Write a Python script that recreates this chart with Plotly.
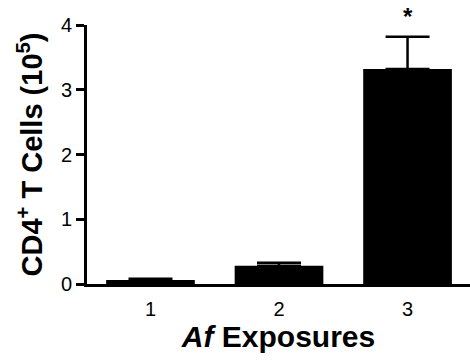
import plotly.graph_objects as go

# Af exposure groups and mean CD4+ T cell counts (x10^5) with SEM
exposures = [1, 2, 3]
exposure_labels = ["1", "2", "3"]
cd4_cells = [0.06, 0.28, 3.32]
cd4_sem = [0.02, 0.05, 0.50]
significance = ["", "", "*"]

FONT = "Liberation Sans, Arial, sans-serif"

fig = go.Figure()
fig.add_trace(go.Bar(
    x=exposures,
    y=cd4_cells,
    width=0.69,
    marker=dict(color="black", line=dict(width=0)),
    error_y=dict(type="data", array=cd4_sem, arrayminus=[0] * len(cd4_sem),
                 symmetric=False, color="black", thickness=2.5, width=22),
))

for xv, yv, err, mark in zip(exposures, cd4_cells, cd4_sem, significance):
    if mark:
        fig.add_annotation(x=xv, y=yv + err, yref="y", xref="x",
                           text="<b>" + mark + "</b>",
                           showarrow=False, yshift=20,
                           font=dict(family=FONT, size=24, color="black"))

fig.update_layout(
    width=470, height=364,
    margin=dict(l=87, r=0, t=25, b=80),
    plot_bgcolor="white", paper_bgcolor="white",
    showlegend=False,
    font=dict(family=FONT, color="black"),
    xaxis=dict(
        range=[0.506, 3.486], tickvals=exposures, ticktext=exposure_labels,
        showline=True, linewidth=3, linecolor="black", ticks="",
        showgrid=False, zeroline=False, ticklabelstandoff=5,
        tickfont=dict(size=20, family=FONT),
        title=dict(text="<i>Af</i> Exposures", standoff=5,
                   font=dict(size=30, family=FONT, weight="bold")),
    ),
    yaxis=dict(
        range=[0, 4], dtick=1, showline=True, linewidth=3, linecolor="black",
        ticks="outside", ticklen=8, tickwidth=3, tickcolor="black",
        showgrid=False, zeroline=False,
        tickfont=dict(size=20, family=FONT),
        title=dict(text="CD4<sup>+</sup> T Cells (10<sup>5</sup>)", standoff=10,
                   font=dict(size=29, family=FONT, weight="bold")),
    ),
)

fig.write_html("out.html")
